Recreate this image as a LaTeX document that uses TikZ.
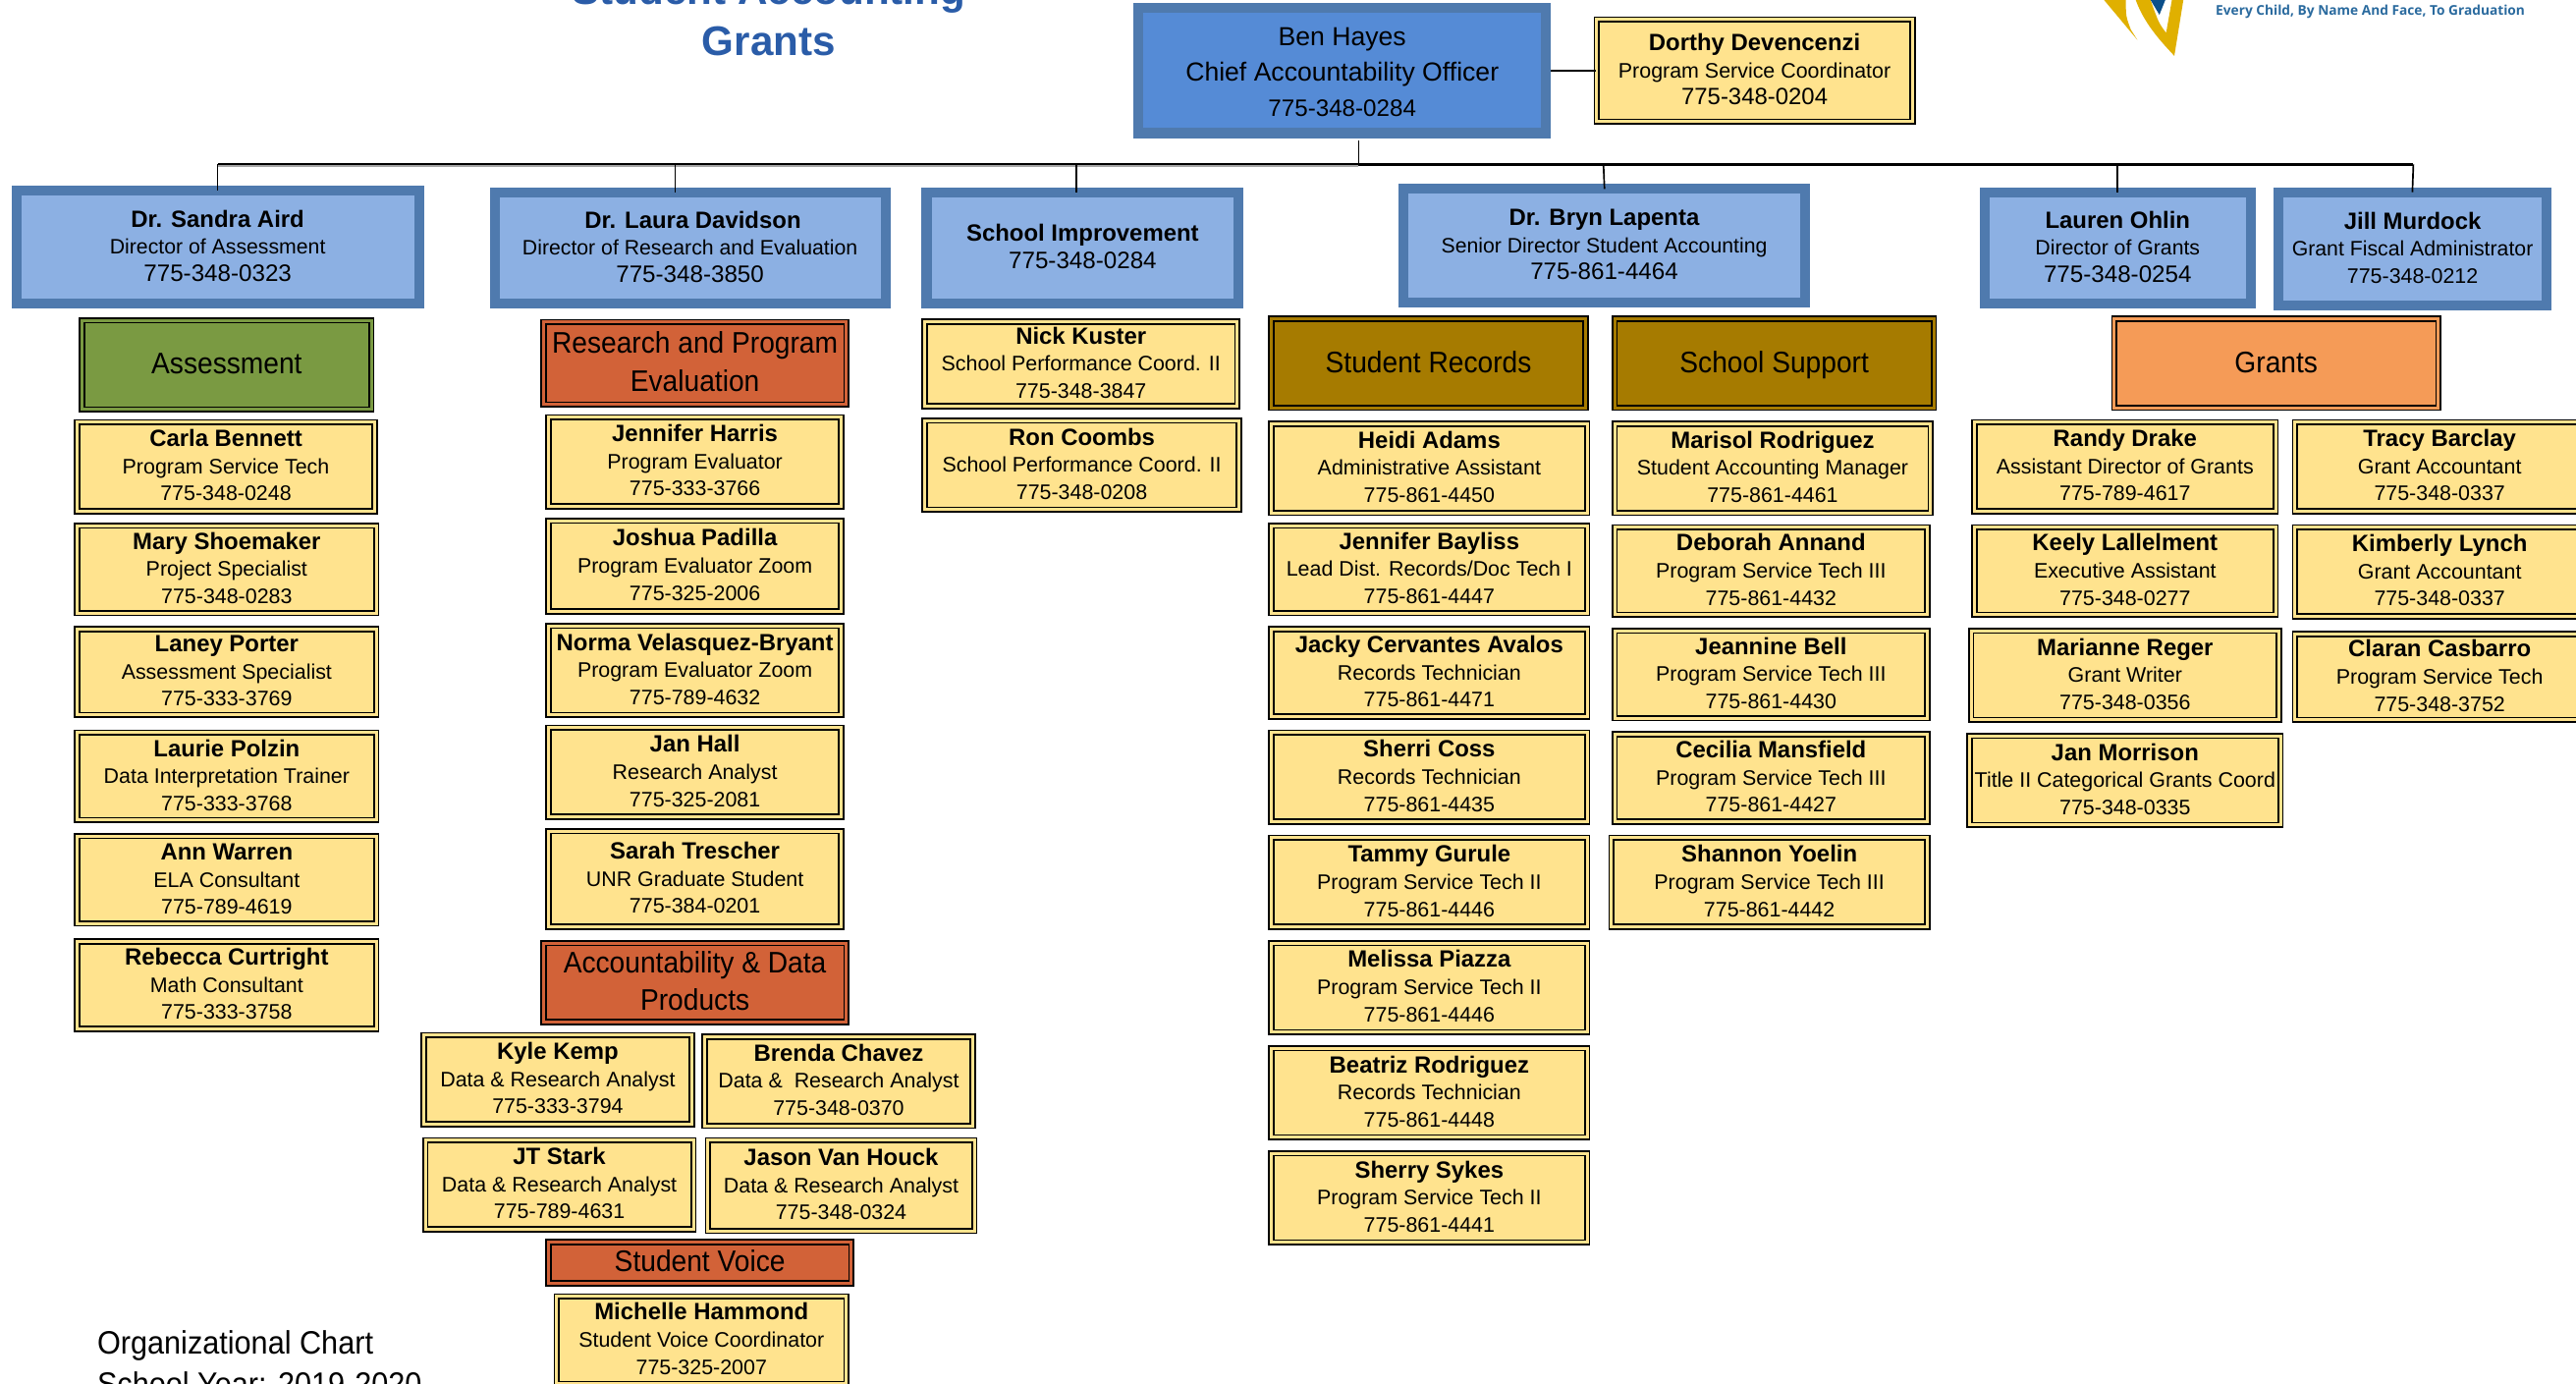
\documentclass[tikz,border=0pt]{standalone}
\usepackage{fontspec}
\setmainfont{Liberation Sans}
\newfontfamily\hdrfont[FakeStretch=0.93]{Liberation Sans}
\newfontfamily\tagfont{Open Sans}
\definecolor{yel}{HTML}{FFE38E}
\definecolor{dirfill}{HTML}{8CB0E3}
\definecolor{bossfill}{HTML}{558BD6}
\definecolor{blueedge}{HTML}{4F7AAE}
\definecolor{grn}{HTML}{7A9A42}
\definecolor{orng}{HTML}{D26238}
\definecolor{brwn}{HTML}{A67B00}
\definecolor{lorng}{HTML}{F59B57}
\definecolor{ttl}{HTML}{2A5CA8}
\definecolor{gold}{HTML}{E0B000}
\definecolor{navy}{HTML}{0B4F8A}
\definecolor{tagc}{HTML}{2A6A9E}
\tikzset{
  ybox/.style={draw=black,line width=1pt,double=yel,double distance=1.8pt,fill=yel,inner sep=0pt,font=\fontsize{12.8}{16.5}\selectfont},
  hbox/.style={draw=black,line width=1pt,double=#1,double distance=1.8pt,fill=#1,inner sep=0pt,font=\hdrfont\fontsize{18.1}{23}\selectfont},
  dbox/.style={draw=blueedge,line width=6pt,fill=dirfill,inner sep=0pt,font=\fontsize{12.7}{16.5}\selectfont},
  bossbox/.style={draw=blueedge,line width=6pt,fill=bossfill,inner sep=0pt,font=\fontsize{15.9}{21.5}\selectfont},
  wire/.style={draw=black,line width=1.1pt},
  drop/.style={draw=black,line width=1pt,shorten >=-3pt},
}
\def\myraise{2pt}
\newcommand\mybox[8]{\node[#2,minimum width={#6pt-#4pt-#3pt},minimum height={#7pt-#5pt-#3pt}] (#1) at ({(#4+#6)/2},{(#5+#7)/2}) {\raisebox{0pt}[\dimexpr\height+\myraise\relax][\depth]{\begin{tabular}{@{}c@{}}#8\end{tabular}}};}
\newcommand\yb[8]{\mybox{#1}{ybox}{3.8}{#2}{#3}{#4}{#5}{{\fontsize{14.3}{16.5}\selectfont\bfseries #6}\\#7\\#8}}
\newcommand\db[9]{\mybox{#1}{dbox}{6}{#2}{#3}{#4}{#5}{{\fontsize{14.3}{16.5}\selectfont\bfseries #6}\\#7\\{\fontsize{#9}{16.5}\selectfont #8}}}
\newcommand\hb[7]{\mybox{#1}{hbox=#2}{3.8}{#3}{#4}{#5}{#6}{#7}}
\begin{document}
\begin{tikzpicture}[x=1pt,y=-1pt]
\useasboundingbox (0,0) rectangle (1568,842);
\clip (0,0) rectangle (1568,842);
% logo
\fill[gold] (1280.7,0) -- (1301,24.3) -- (1297,18) .. controls (1294,10) .. (1294,0) -- cycle;
\fill[gold] (1300,0) .. controls (1305,14) and (1315,25) .. (1323.5,34) -- (1329,0) -- (1322,0) -- (1318.5,20) .. controls (1314,14) .. (1309,0) -- cycle;
\fill[navy] (1309,0) -- (1314.4,9) -- (1318,0) -- cycle;
\node[anchor=west,inner sep=0pt,text=tagc,font=\tagfont\fontsize{8.2}{9}\selectfont\bfseries] (tagline) at (1348.5,7) {Every Child, By Name And Face, To Graduation};
% title
\node[align=center,inner sep=0pt,text=ttl,font=\fontsize{25.2}{31}\selectfont\bfseries] (title) at (468,9) {Student Accounting\\Grants};
\node[align=left,anchor=west,inner sep=0pt,font=\hdrfont\fontsize{19.7}{25}\selectfont] (orgchart) at (59,829.5) {Organizational Chart\\School Year: 2019-2020};
% top
\def\myraise{4pt}
\mybox{ben}{bossbox}{6}{690}{2}{944}{84}{Ben Hayes\\Chief Accountability Officer\\{\fontsize{14.45}{21.5}\selectfont 775-348-0284}}
\def\myraise{2pt}
\mybox{dorthy}{ybox}{3.8}{970}{10}{1166}{76}{{\fontsize{14.3}{16.5}\selectfont\bfseries Dorthy Devencenzi}\\Program Service Coordinator\\{\fontsize{14.3}{16.5}\selectfont 775-348-0204}}
% directors
\db{sandra}{7}{113}{258}{188}{Dr. Sandra Aird}{Director of Assessment}{775-348-0323}{14.45}
\db{laura}{298}{114}{542}{188}{\hspace*{3.5pt}Dr. Laura Davidson}{Director of Research and Evaluation}{775-348-3850}{14.45}
\mybox{schimp}{dbox}{6}{561}{114}{757}{188}{{\fontsize{14.3}{16.5}\selectfont\bfseries School Improvement}\\{\fontsize{14.45}{16.5}\selectfont 775-348-0284}}
\db{bryn}{851}{112}{1102}{187}{Dr. Bryn Lapenta}{Senior Director Student Accounting}{775-861-4464}{14.45}
\db{lauren}{1205}{114}{1373}{188}{Lauren Ohlin}{Director of Grants}{775-348-0254}{14.45}
\db{jill}{1384}{114}{1553}{189}{Jill Murdock}{Grant Fiscal Administrator}{775-348-0212}{12.8}
% section headers
\hb{hassess}{grn}{48}{193}{228}{251}{Assessment}
\hb{hresearch}{orng}{329}{194}{517}{248}{Research and Program\\Evaluation}
\hb{hacct}{orng}{329}{573}{517}{623}{Accountability \& Data\\Products}
\hb{hvoice}{orng}{332}{754}{520}{783}{Student Voice}
\hb{hrecords}{brwn}{772}{192}{967}{250}{Student Records}
\hb{hsupport}{brwn}{981}{192}{1179}{250}{School Support}
\hb{hgrants}{lorng}{1285}{192}{1486}{250}{Grants}
% assessment
\yb{carla}{45}{255}{230}{313}{Carla Bennett}{Program Service Tech}{775-348-0248}
\yb{mary}{45}{318}{231}{375}{Mary Shoemaker}{Project Specialist}{775-348-0283}
\yb{laney}{45}{381}{231}{437}{Laney Porter}{Assessment Specialist}{775-333-3769}
\yb{laurie}{45}{444}{231}{501}{Laurie Polzin}{Data Interpretation Trainer}{775-333-3768}
\yb{ann}{45}{507}{231}{564}{Ann Warren}{ELA Consultant}{775-789-4619}
\yb{rebecca}{45}{571}{231}{628}{Rebecca Curtright}{Math Consultant}{775-333-3758}
% research
\yb{jharris}{332}{252}{514}{310}{Jennifer Harris}{Program Evaluator}{775-333-3766}
\yb{joshua}{332}{315}{514}{374}{Joshua Padilla}{Program Evaluator Zoom}{775-325-2006}
\yb{norma}{332}{379}{514}{437}{Norma Velasquez-Bryant}{Program Evaluator Zoom}{775-789-4632}
\yb{janh}{332}{441}{514}{499}{Jan Hall}{Research Analyst}{775-325-2081}
\yb{sarah}{332}{504}{514}{566}{Sarah Trescher}{UNR Graduate Student}{775-384-0201}
\yb{kyle}{256}{628}{423}{686}{Kyle Kemp}{Data \& Research Analyst}{775-333-3794}
\yb{brenda}{427}{629}{594}{687}{Brenda Chavez}{Data \&\ \ Research Analyst}{775-348-0370}
\yb{jt}{257}{692}{424}{750}{JT Stark}{Data \& Research Analyst}{775-789-4631}
\yb{jason}{429}{692}{595}{751}{Jason Van Houck}{Data \& Research Analyst}{775-348-0324}
\yb{michelle}{337}{787}{517}{844}{Michelle Hammond}{Student Voice Coordinator}{775-325-2007}
% school improvement
\yb{nick}{561}{194}{755}{249}{Nick Kuster}{School Performance Coord. II}{775-348-3847}
\yb{ron}{561}{254}{756}{312}{Ron Coombs}{School Performance Coord. II}{775-348-0208}
% records
\yb{heidi}{772}{256}{968}{314}{Heidi Adams}{Administrative Assistant}{775-861-4450}
\yb{jbayliss}{772}{318}{968}{375}{Jennifer Bayliss}{Lead Dist. Records/Doc Tech I}{775-861-4447}
\yb{jacky}{772}{381}{968}{438}{Jacky Cervantes Avalos}{Records Technician}{775-861-4471}
\yb{sherri}{772}{444}{968}{502}{Sherri Coss}{Records Technician}{775-861-4435}
\yb{tammy}{772}{508}{968}{566}{Tammy Gurule}{Program Service Tech II}{775-861-4446}
\yb{melissa}{772}{572}{968}{630}{Melissa Piazza}{Program Service Tech II}{775-861-4446}
\yb{beatriz}{772}{636}{968}{694}{Beatriz Rodriguez}{Records Technician}{775-861-4448}
\yb{sherry}{772}{700}{968}{758}{Sherry Sykes}{Program Service Tech II}{775-861-4441}
% support
\yb{marisol}{981}{256}{1177}{314}{Marisol Rodriguez}{Student Accounting Manager}{775-861-4461}
\yb{deborah}{981}{319}{1175}{376}{Deborah Annand}{Program Service Tech III}{775-861-4432}
\yb{jeannine}{981}{382}{1175}{439}{Jeannine Bell}{Program Service Tech III}{775-861-4430}
\yb{cecilia}{981}{445}{1175}{502}{Cecilia Mansfield}{Program Service Tech III}{775-861-4427}
\yb{shannon}{979}{508}{1175}{566}{Shannon Yoelin}{Program Service Tech III}{775-861-4442}
% grants
\yb{randy}{1200}{255}{1387}{313}{Randy Drake}{Assistant Director of Grants}{775-789-4617}
\yb{keely}{1200}{319}{1387}{376}{Keely Lallelment}{Executive Assistant}{775-348-0277}
\yb{marianne}{1198}{382}{1389}{440}{Marianne Reger}{Grant Writer}{775-348-0356}
\yb{janm}{1197}{446}{1390}{504}{Jan Morrison}{Title II Categorical Grants Coord}{775-348-0335}
\yb{tracy}{1395}{255}{1575}{313}{Tracy Barclay}{Grant Accountant}{775-348-0337}
\yb{kimberly}{1395}{319}{1575}{377}{Kimberly Lynch}{Grant Accountant}{775-348-0337}
\yb{claran}{1395}{384}{1575}{440}{Claran Casbarro}{Program Service Tech}{775-348-3752}
% connectors
\coordinate (jct) at (827,100);
\coordinate (benout) at (827,85.5);
\coordinate (busL) at (132.5,100);
\coordinate (busR) at (1469,100);
\coordinate (d2) at (411,100);
\coordinate (d3) at (655,100);
\coordinate (d4) at (976,100);
\coordinate (d5) at (1289,100);
\draw[wire,preaction={draw=gray!70,line width=1.4pt,transform canvas={yshift=-0.7pt}}] (busL) -- (jct);
\draw[wire,line width=1.5pt] (jct) -- (busR);
\draw[wire] (benout) -- (jct);
\draw[wire,line width=1.3pt] (ben.east) -- (dorthy.west);
\draw[drop] (busL) -- (sandra.north);
\draw[drop] (d2) -- (d2 |- laura.north);
\draw[drop] (d3) -- (d3 |- schimp.north);
\draw[drop] (d4) -- (bryn.north);
\draw[drop] (d5) -- (lauren.north);
\draw[drop] (busR) -- (jill.north);
\end{tikzpicture}
\end{document}
